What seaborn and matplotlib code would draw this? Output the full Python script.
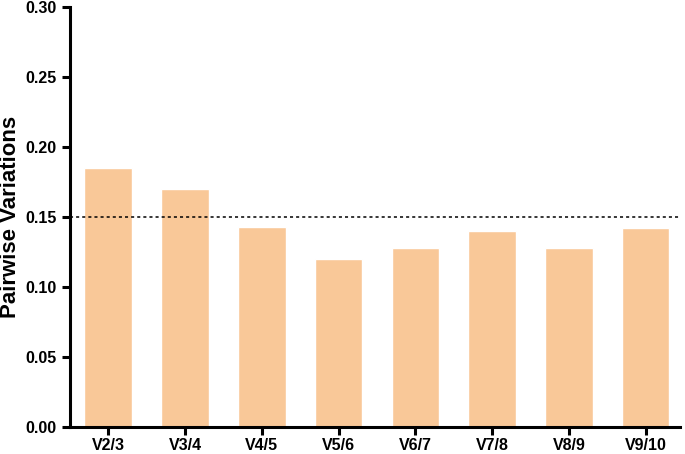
import matplotlib
matplotlib.use("Agg")
import matplotlib.pyplot as plt
import seaborn as sns
import pandas as pd

pares = ["V2/3", "V3/4", "V4/5", "V5/6", "V6/7", "V7/8", "V8/9", "V9/10"]
variaciones = [0.185, 0.170, 0.1425, 0.120, 0.1275, 0.140, 0.1275, 0.142]
umbral = 0.15

df = pd.DataFrame({"par": pares, "v": variaciones})

sns.set_style("ticks")
plt.rcParams["font.family"] = ["Liberation Sans", "DejaVu Sans"]

fig = plt.figure(figsize=(6.85, 4.54), dpi=100)
ax = fig.add_axes([0.102, 0.06, 0.891, 0.925])

sns.barplot(data=df, x="par", y="v", color="#F9C898", saturation=1, width=0.62, ax=ax)
ax.axhline(umbral, color="black", linestyle=(0, (2, 2)), linewidth=1.1)

ax.set_ylim(0, 0.30)
ax.set_xlim(-0.5, 7.45)
ax.set_yticks([0.00, 0.05, 0.10, 0.15, 0.20, 0.25, 0.30])
ax.set_yticklabels([f"{t:.2f}" for t in ax.get_yticks()])
ax.set_xlabel("")
ax.set_ylabel("Pairwise Variations", fontsize=16, fontweight="bold", color="black", va="center")
ax.yaxis.set_label_coords(-0.098, 0.5)

for s in ["top", "right"]:
    ax.spines[s].set_visible(False)
for s in ["left", "bottom"]:
    ax.spines[s].set_linewidth(2.2)
    ax.spines[s].set_color("black")
ax.tick_params(width=2.2, length=6, labelsize=11.5, color="black", labelcolor="black")
ax.tick_params(axis="x", pad=2)
for lbl in ax.get_xticklabels() + ax.get_yticklabels():
    lbl.set_fontweight("bold")

fig.savefig("out.png", dpi=100)
